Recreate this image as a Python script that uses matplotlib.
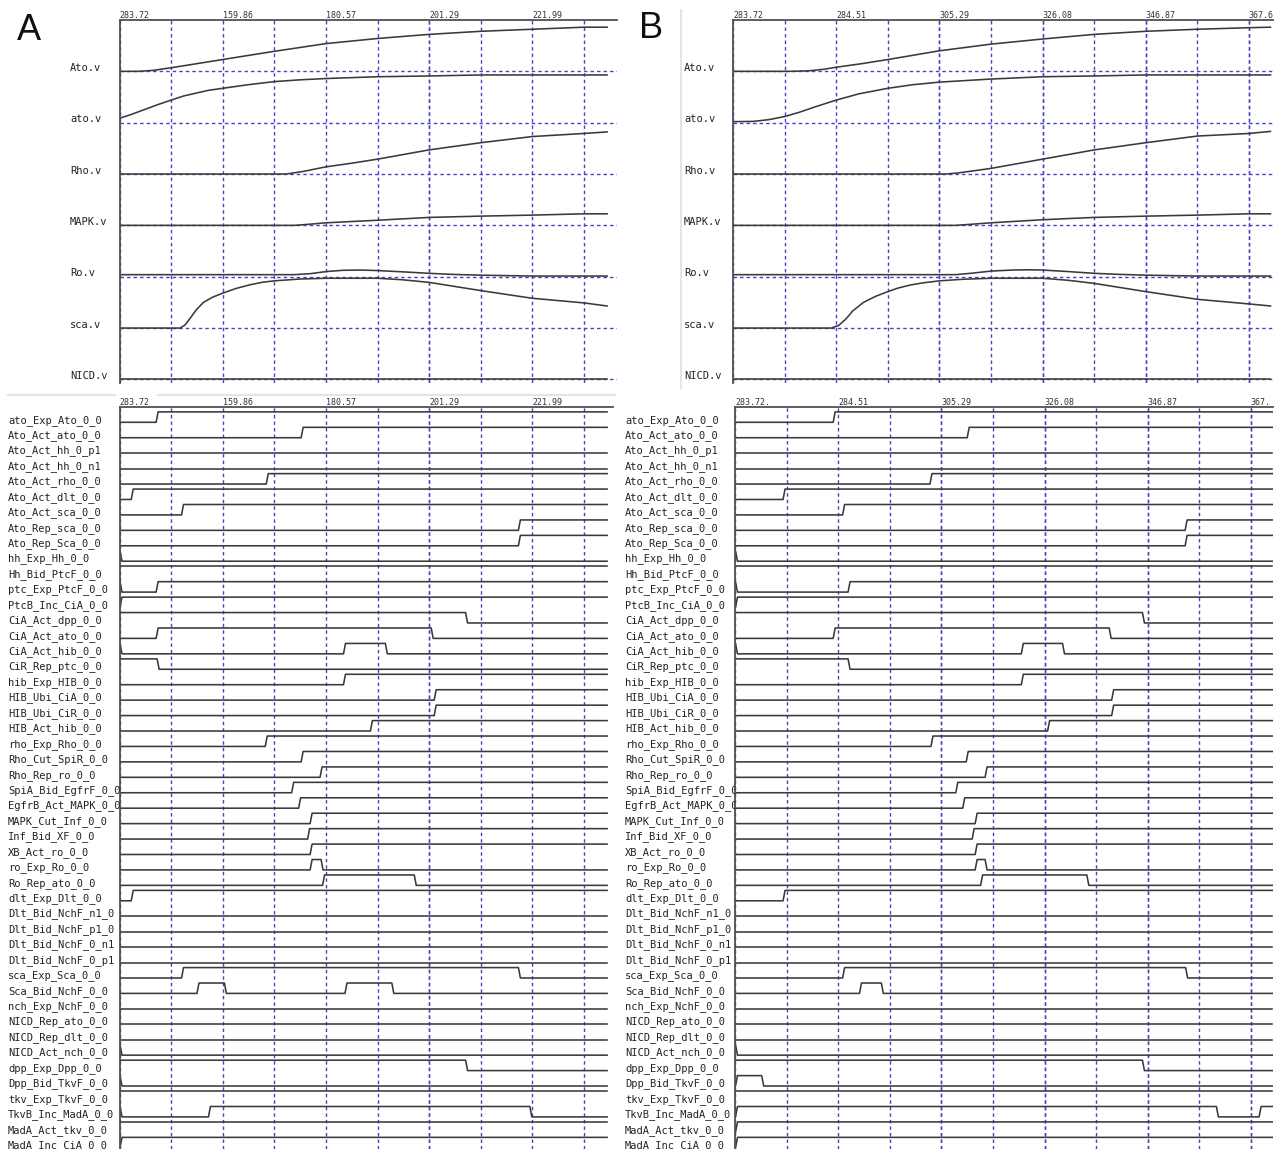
import numpy as np
import matplotlib
matplotlib.use("Agg")
import matplotlib.pyplot as plt
from matplotlib.transforms import blended_transform_factory
from matplotlib.lines import Line2D

W, H, DPI = 1287, 1149, 100

# ---------------- data ----------------
top_vars = ["Ato.v", "ato.v", "Rho.v", "MAPK.v", "Ro.v", "sca.v", "NICD.v"]

# Panel A time axis
A_t0, A_dt, A_tend = 139.15, 10.355, 237.0
A_ticks = [139.15, 159.86, 180.57, 201.29, 221.99]
A_tick_labels = ["283.72", "159.86", "180.57", "201.29", "221.99"]

# Panel B time axis
B_t0, B_dt, B_tend = 263.72, 10.395, 372.0
B_ticks = [263.72, 284.51, 305.29, 326.08, 346.87, 367.6]
B_tick_labels_top = ["283.72", "284.51", "305.29", "326.08", "346.87", "367.6"]
B_tick_labels_bot = ["283.72.", "284.51", "305.29", "326.08", "346.87", "367."]

# Panel A analogue traces (normalised level within each band)
A_Ato_t = [139.15, 143.0, 146.0, 149.51, 154.7, 159.86, 165.0, 170.22, 180.57, 190.93, 201.28, 211.64, 221.99, 232.35, 237.0]
A_Ato_v = [0, 0, 0.02, 0.07, 0.15, 0.23, 0.31, 0.39, 0.54, 0.64, 0.72, 0.78, 0.82, 0.86, 0.86]
A_ato_t = [139.15, 141.5, 144.0, 146.8, 149.51, 152.0, 154.7, 157.0, 159.86, 165.0, 170.22, 175.4, 180.57, 190.93, 201.28, 211.64, 237.0]
A_ato_v = [0.085, 0.16, 0.25, 0.35, 0.44, 0.52, 0.58, 0.63, 0.67, 0.74, 0.80, 0.835, 0.86, 0.895, 0.91, 0.93, 0.93]
A_Rho_t = [139.15, 172.6, 176.0, 180.57, 185.7, 190.93, 201.28, 211.64, 221.99, 232.35, 237.0]
A_Rho_v = [0, 0, 0.05, 0.14, 0.21, 0.29, 0.47, 0.61, 0.73, 0.79, 0.82]
A_MAPK_t = [139.15, 174.2, 177.0, 180.57, 190.93, 201.28, 211.64, 221.99, 232.35, 237.0]
A_MAPK_v = [0, 0, 0.02, 0.05, 0.10, 0.155, 0.18, 0.20, 0.225, 0.225]
A_Ro_t = [139.15, 174.2, 177.5, 180.57, 184.0, 187.5, 190.93, 196.0, 201.28, 206.0, 211.64, 221.99, 237.0]
A_Ro_v = [0.04, 0.04, 0.06, 0.10, 0.125, 0.13, 0.12, 0.095, 0.066, 0.045, 0.03, 0.013, 0.013]
A_sca_t = [139.15, 151.3, 152.3, 153.4, 154.6, 156.0, 157.8, 159.86, 162.5, 165.2, 167.7, 170.22, 175.4, 180.57, 190.93, 196.0, 201.28, 211.64, 221.99, 232.35, 237.0]
A_sca_v = [0, 0, 0.06, 0.2, 0.36, 0.5, 0.6, 0.68, 0.77, 0.84, 0.89, 0.92, 0.955, 0.97, 0.97, 0.94, 0.89, 0.73, 0.58, 0.49, 0.43]
A_NICD_t = [139.15, 237.0]
A_NICD_v = [0, 0]

# Panel B analogue traces
B_Ato_t = [263.72, 275.0, 279.0, 282.0, 284.51, 289.7, 294.91, 305.30, 315.70, 326.09, 336.49, 346.88, 357.28, 367.67, 372.0]
B_Ato_v = [0, 0, 0.01, 0.04, 0.08, 0.15, 0.23, 0.40, 0.53, 0.63, 0.72, 0.78, 0.82, 0.85, 0.86]
B_ato_t = [263.72, 267.8, 271.0, 274.12, 277.0, 280.0, 284.51, 289.0, 294.91, 300.0, 305.30, 315.70, 326.09, 336.49, 346.88, 372.0]
B_ato_v = [0.02, 0.025, 0.06, 0.12, 0.2, 0.3, 0.44, 0.56, 0.67, 0.74, 0.79, 0.85, 0.895, 0.91, 0.93, 0.93]
B_Rho_t = [263.72, 306.5, 309.0, 312.0, 315.70, 320.9, 326.09, 336.49, 346.88, 357.28, 367.67, 372.0]
B_Rho_v = [0, 0, 0.02, 0.06, 0.11, 0.2, 0.29, 0.47, 0.61, 0.74, 0.79, 0.83]
B_MAPK_t = [263.72, 308.5, 311.5, 315.70, 326.09, 336.49, 346.88, 357.28, 367.67, 372.0]
B_MAPK_v = [0, 0, 0.02, 0.05, 0.11, 0.155, 0.18, 0.20, 0.225, 0.225]
B_Ro_t = [263.72, 308.5, 312.0, 315.70, 320.0, 323.0, 326.09, 331.3, 336.49, 341.7, 346.88, 357.28, 372.0]
B_Ro_v = [0.04, 0.04, 0.07, 0.11, 0.13, 0.135, 0.13, 0.1, 0.066, 0.045, 0.03, 0.013, 0.013]
B_sca_t = [263.72, 283.5, 285.0, 286.5, 287.8, 290.0, 292.5, 294.91, 297.0, 299.5, 302.0, 305.30, 310.0, 315.70, 326.09, 331.3, 336.49, 346.88, 357.28, 367.67, 372.0]
B_sca_v = [0, 0, 0.05, 0.18, 0.33, 0.5, 0.62, 0.71, 0.78, 0.84, 0.88, 0.92, 0.95, 0.97, 0.97, 0.93, 0.87, 0.71, 0.56, 0.47, 0.43]
B_NICD_t = [263.72, 372.0]
B_NICD_v = [0, 0]

# Digital signals
sig_labels = ["ato_Exp_Ato_0_0", "Ato_Act_ato_0_0", "Ato_Act_hh_0_p1", "Ato_Act_hh_0_n1",
              "Ato_Act_rho_0_0", "Ato_Act_dlt_0_0", "Ato_Act_sca_0_0", "Ato_Rep_sca_0_0",
              "Ato_Rep_Sca_0_0", "hh_Exp_Hh_0_0", "Hh_Bid_PtcF_0_0", "ptc_Exp_PtcF_0_0",
              "PtcB_Inc_CiA_0_0", "CiA_Act_dpp_0_0", "CiA_Act_ato_0_0", "CiA_Act_hib_0_0",
              "CiR_Rep_ptc_0_0", "hib_Exp_HIB_0_0", "HIB_Ubi_CiA_0_0", "HIB_Ubi_CiR_0_0",
              "HIB_Act_hib_0_0", "rho_Exp_Rho_0_0", "Rho_Cut_SpiR_0_0", "Rho_Rep_ro_0_0",
              "SpiA_Bid_EgfrF_0_0", "EgfrB_Act_MAPK_0_0", "MAPK_Cut_Inf_0_0", "Inf_Bid_XF_0_0",
              "XB_Act_ro_0_0", "ro_Exp_Ro_0_0", "Ro_Rep_ato_0_0", "dlt_Exp_Dlt_0_0",
              "Dlt_Bid_NchF_n1_0", "Dlt_Bid_NchF_p1_0", "Dlt_Bid_NchF_0_n1", "Dlt_Bid_NchF_0_p1",
              "sca_Exp_Sca_0_0", "Sca_Bid_NchF_0_0", "nch_Exp_NchF_0_0", "NICD_Rep_ato_0_0",
              "NICD_Rep_dlt_0_0", "NICD_Act_nch_0_0", "dpp_Exp_Dpp_0_0", "Dpp_Bid_TkvF_0_0",
              "tkv_Exp_TkvF_0_0", "TkvB_Inc_MadA_0_0", "MadA_Act_tkv_0_0", "MadA_Inc_CiA_0_0"]

A_init = [0, 0, 0, 0, 0, 0, 0, 0, 0, 1, 1, 1, 0, 1, 0, 1, 1, 0, 0, 0, 0, 0, 0, 0,
          0, 0, 0, 0, 0, 0, 0, 0, 0, 0, 0, 0, 0, 0, 0, 0, 0, 1, 1, 1, 1, 1, 1, 0]
A_toggles = [[146.7], [175.8], [], [], [168.8], [141.7], [151.8], [219.4],
             [219.4], [139.45], [], [139.45, 146.7], [139.45], [208.8], [146.7, 201.9], [139.45, 184.3, 192.7],
             [146.9], [184.3], [202.5], [202.5], [189.7], [168.6], [175.8], [179.6],
             [173.9], [175.3], [177.6], [177.1], [177.6], [177.6, 179.8], [180.1, 198.5], [141.7],
             [], [], [], [], [151.8, 219.4], [154.9, 160.4, 184.6, 194.0], [], [],
             [], [139.45], [208.8], [139.45], [], [139.45, 157.2, 221.7], [], [139.45]]

B_init = [0, 0, 0, 0, 0, 0, 0, 0, 0, 1, 1, 1, 0, 1, 0, 1, 1, 0, 0, 0, 0, 0, 0, 0,
          0, 0, 0, 0, 0, 0, 0, 0, 0, 0, 0, 0, 0, 0, 0, 0, 0, 1, 1, 0, 1, 0, 0, 0]
B_toggles = [[283.7], [310.7], [], [], [303.2], [273.6], [285.6], [354.6],
             [354.6], [264.02], [], [264.02, 286.7], [264.02], [346.0], [283.7, 339.3], [264.02, 321.6, 329.9],
             [286.7], [321.6], [339.8], [339.8], [326.9], [303.4], [310.5], [314.3],
             [308.4], [309.8], [312.3], [311.7], [312.3], [312.3, 314.3], [313.4, 334.8], [273.6],
             [], [], [], [], [285.6, 354.7], [289.0, 293.4], [], [],
             [], [264.02], [346.0], [264.02, 269.3], [], [264.02, 360.9, 369.5], [264.02], [264.02]]

# ---------------- style ----------------
MONO = "DejaVu Sans Mono"
GRID = "#4444c4"
LINE = "#3a3a3a"
SPINE = "#505050"
HIGH = 0.674        # height of a "1" level relative to row pitch
RAMP = 0.2
LABEL_FS = 7.5


def rect(l, t, r, b):
    return [l / W, 1 - b / H, (r - l) / W, (b - t) / H]


fig = plt.figure(figsize=(W / DPI, H / DPI), dpi=DPI)
fig.patch.set_facecolor("white")


def style(ax, t0, dt, xr, ticks, labels, ngrid):
    ax.set_xlim(t0, xr)
    for s in ["right", "bottom"]:
        ax.spines[s].set_visible(False)
    for s in ["left", "top"]:
        ax.spines[s].set_color(SPINE)
        ax.spines[s].set_linewidth(1.3)
    ax.xaxis.tick_top()
    ax.set_xticks(ticks)
    ax.set_xticklabels(labels, fontfamily=MONO, fontsize=6, color="#333333")
    for lb in ax.get_xticklabels():
        lb.set_horizontalalignment("left")
    ax.set_xticks([t0 + k * dt for k in range(1, ngrid + 1)], minor=True)
    ax.tick_params(axis="x", which="both", length=0, pad=0.3)
    ax.grid(True, axis="x", which="both", color=GRID, ls=(0, (2.5, 2.2)), lw=1.0)
    ax.set_axisbelow(True)
    ax.set_facecolor("none")


def top_panel(l, r, t0, dt, xr, ticks, labels, ngrid, curves, lab_x):
    ax = fig.add_axes(rect(l, 20, r, 383))
    style(ax, t0, dt, xr, ticks, labels, ngrid)
    ax.set_ylim(-6.07, 1.0)
    ax.set_yticks(-np.arange(len(top_vars)))
    ax.tick_params(axis="y", length=0, labelleft=False)
    ax.grid(True, axis="y", color=GRID, ls=(0, (2.5, 2.2)), lw=1.0)
    tr = blended_transform_factory(fig.transFigure, ax.transData)
    for i, (name, (ts, vs)) in enumerate(zip(top_vars, curves)):
        ax.plot(ts, -i + np.asarray(vs), color=LINE, lw=1.15, solid_joinstyle="round")
        fig.text(lab_x / W, -i + 0.01, name, transform=tr, fontfamily=MONO,
                 fontsize=LABEL_FS, color="#222222", va="baseline", ha="left")
    return ax


def step_xy(init, toggles, t0, tend):
    xs, ys = [t0], [init]
    lev = init
    for t in toggles:
        xs += [t - RAMP, t + RAMP]
        ys += [lev, 1 - lev]
        lev = 1 - lev
    xs.append(tend)
    ys.append(lev)
    return np.array(xs), np.array(ys, dtype=float)


def bottom_panel(l, r, t0, dt, xr, tend, ticks, labels, ngrid, inits, toggles, lab_l, lab_x):
    ax = fig.add_axes(rect(l, 407, r, 1149))
    style(ax, t0, dt, xr, ticks, labels, ngrid)
    ylim = (-47.08, 0.991)
    ax.set_ylim(*ylim)
    ax.set_yticks([])
    for i in range(len(sig_labels)):
        xs, ys = step_xy(inits[i], toggles[i], t0, tend)
        ax.plot(xs, -i + ys * HIGH, color=LINE, lw=1.15)
    lax = fig.add_axes(rect(lab_l, 407, l, 1149))
    lax.set_ylim(*ylim)
    lax.set_xlim(0, 1)
    lax.axis("off")
    tr = blended_transform_factory(lax.transAxes, lax.transData)
    for i, name in enumerate(sig_labels):
        lax.text((lab_x - lab_l) / (l - lab_l), -i - 0.02, name, transform=tr,
                 fontfamily=MONO, fontsize=LABEL_FS, color="#222222",
                 va="baseline", ha="left", clip_on=True)
    return ax


A_curves = [(A_Ato_t, A_Ato_v), (A_ato_t, A_ato_v), (A_Rho_t, A_Rho_v), (A_MAPK_t, A_MAPK_v),
            (A_Ro_t, A_Ro_v), (A_sca_t, A_sca_v), (A_NICD_t, A_NICD_v)]
B_curves = [(B_Ato_t, B_Ato_v), (B_ato_t, B_ato_v), (B_Rho_t, B_Rho_v), (B_MAPK_t, B_MAPK_v),
            (B_Ro_t, B_Ro_v), (B_sca_t, B_sca_v), (B_NICD_t, B_NICD_v)]

A_scale = A_dt / 51.6
B_scale = B_dt / 51.6

top_panel(119.5, 617, A_t0, A_dt, A_t0 + (617 - 119.5) * A_scale, A_ticks, A_tick_labels, 9, A_curves, 70)
top_panel(733, 1273, B_t0, B_dt, B_t0 + (1273 - 733) * B_scale, B_ticks, B_tick_labels_top, 10, B_curves, 684)
bottom_panel(119.5, 613, A_t0, A_dt, A_t0 + (613 - 119.5) * A_scale, A_tend, A_ticks, A_tick_labels, 9,
             A_init, A_toggles, 0, 8)
bottom_panel(735, 1273, B_t0, B_dt, B_t0 + (1273 - 735) * B_scale, B_tend, B_ticks, B_tick_labels_bot, 10,
             B_init, B_toggles, 615, 625)

# faint screenshot borders
for (x0, y0, x1, y1) in [(8, 395, 115, 395), (158, 395, 615, 395), (681, 10, 681, 388)]:
    fig.add_artist(Line2D([x0 / W, x1 / W], [1 - y0 / H, 1 - y1 / H], transform=fig.transFigure,
                          color="#e4e4e4", lw=1.5))

# panel letters
fig.text(17 / W, 1 - 40 / H, "A", fontsize=26, fontfamily="Liberation Sans",
         va="baseline", ha="left", color="#111111")
fig.text(639 / W, 1 - 38 / H, "B", fontsize=26, fontfamily="Liberation Sans",
         va="baseline", ha="left", color="#111111")

fig.savefig("out.png", dpi=DPI, facecolor="white")
